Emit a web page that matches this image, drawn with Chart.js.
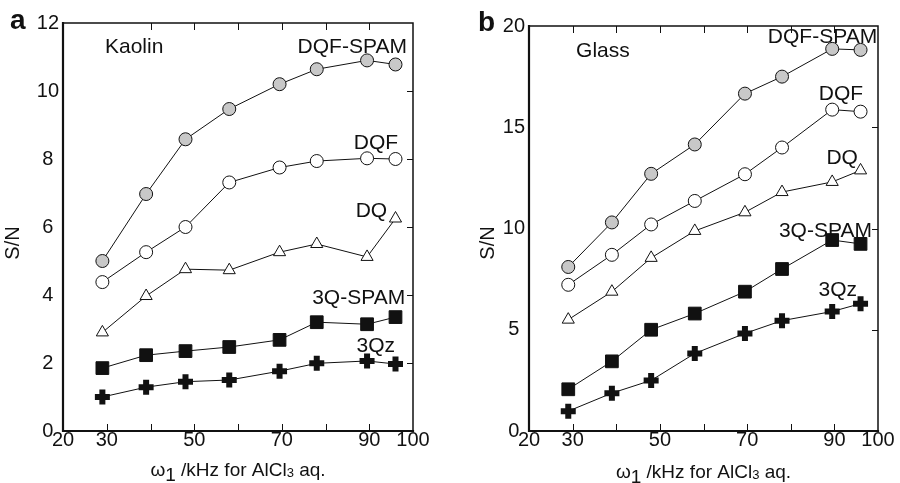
<!DOCTYPE html>
<html>
<head>
<meta charset="utf-8">
<script src="https://cdn.jsdelivr.net/npm/chart.js@4.4.1/dist/chart.umd.min.js"></script>
<style>
  html, body { margin: 0; padding: 0; background: #fff; }
  #wrap { position: relative; width: 900px; height: 483px; }
  canvas { position: absolute; top: 0; }
  #panel-a { left: 0; }
  #panel-b { left: 450px; }
</style>
</head>
<body>
<div id="wrap">
  <canvas id="panel-a" width="450" height="483"></canvas>
  <canvas id="panel-b" width="450" height="483"></canvas>
</div>
<script>
// omega_1 / kHz for AlCl3 aq.
var xKHz = [29, 39, 48, 58, 69.5, 78, 89.5, 96]
var xTickLabels = [20, 30, 50, 70, 90, 100]
var seriesNames = ['DQF-SPAM', 'DQF', 'DQ', '3Q-SPAM', '3Qz']

// (a) Kaolin
var kaolinDqfSpam = [5.0, 6.97, 8.58, 9.47, 10.2, 10.64, 10.9, 10.78]
var kaolinDqf = [4.38, 5.26, 6.0, 7.31, 7.75, 7.94, 8.02, 8.0]
var kaolinDq = [2.9, 3.97, 4.76, 4.73, 5.26, 5.5, 5.12, 6.25]
var kaolin3QSpam = [1.85, 2.23, 2.35, 2.47, 2.68, 3.2, 3.14, 3.35]
var kaolin3Qz = [1.0, 1.29, 1.45, 1.5, 1.76, 1.99, 2.06, 1.97]
var kaolinYTicks = [0, 2, 4, 6, 8, 10, 12]

// (b) Glass
var glassDqfSpam = [8.1, 10.3, 12.7, 14.15, 16.66, 17.5, 18.87, 18.82]
var glassDqf = [7.22, 8.7, 10.2, 11.36, 12.68, 14.0, 15.87, 15.77]
var glassDq = [5.5, 6.88, 8.55, 9.88, 10.8, 11.8, 12.3, 12.87]
var glass3QSpam = [2.06, 3.44, 5.0, 5.8, 6.88, 8.0, 9.43, 9.24]
var glass3Qz = [0.98, 1.87, 2.5, 3.83, 4.82, 5.45, 5.9, 6.29]
var glassYTicks = [0, 5, 10, 15, 20]

var FONT = '"Liberation Sans", Arial, sans-serif'

var markerStyles = [
  { pointStyle: 'circle', pointRadius: 6.5, pointBackgroundColor: '#c8c8c8', pointBorderWidth: 1 },
  { pointStyle: 'circle', pointRadius: 6.5, pointBackgroundColor: '#ffffff', pointBorderWidth: 1 },
  { pointStyle: 'triangle', pointRadius: 7, pointBackgroundColor: '#ffffff', pointBorderWidth: 1 },
  { pointStyle: 'rect', pointRadius: 9, pointBackgroundColor: '#111111', pointBorderWidth: 1 },
  { pointStyle: 'cross', pointRadius: 7.5, pointBackgroundColor: '#111111', pointBorderWidth: 6 }
]

function toPoints(ys) {
  return ys.map(function (y, i) { return { x: xKHz[i], y: y } })
}

// frame, inward ticks, labels and axis titles
var decorPlugin = {
  id: 'decor',
  afterDraw: function (chart, args, opts) {
    var ctx = chart.ctx
    var a = chart.chartArea
    var xs = chart.scales.x
    var ys = chart.scales.y
    ctx.save()
    ctx.strokeStyle = '#111'
    ctx.lineCap = 'square'

    // box
    ctx.lineWidth = 1.5
    ctx.beginPath()
    ctx.moveTo(a.left, a.top); ctx.lineTo(a.right, a.top); ctx.lineTo(a.right, a.bottom)
    ctx.stroke()
    ctx.lineWidth = 2.2
    ctx.beginPath()
    ctx.moveTo(a.left, a.top); ctx.lineTo(a.left, a.bottom); ctx.lineTo(a.right, a.bottom)
    ctx.stroke()

    // ticks
    ctx.lineWidth = 1
    ctx.lineCap = 'butt'
    ctx.beginPath()
    opts.topTicks.forEach(function (v) {
      var px = Math.round(xs.getPixelForValue(v)) + 0.5
      ctx.moveTo(px, a.top); ctx.lineTo(px, a.top + 7)
    })
    opts.bottomTicks.forEach(function (v) {
      var px = Math.round(xs.getPixelForValue(v)) + 0.5
      ctx.moveTo(px, a.bottom); ctx.lineTo(px, a.bottom - 7)
    })
    opts.rightTicks.forEach(function (v) {
      var py = Math.round(ys.getPixelForValue(v)) + 0.5
      ctx.moveTo(a.right, py); ctx.lineTo(a.right - 6, py)
    })
    ctx.stroke()

    // sample name and series labels
    ctx.fillStyle = '#111'
    ctx.textBaseline = 'alphabetic'
    ctx.font = '21px ' + FONT
    opts.labels.forEach(function (l) {
      ctx.textAlign = l.align
      ctx.fillText(l.text, xs.getPixelForValue(l.x), ys.getPixelForValue(l.y))
    })

    // panel letter
    ctx.font = 'bold 28px ' + FONT
    ctx.textAlign = 'left'
    ctx.fillText(opts.letter, opts.letterX, opts.letterY)

    // y title
    ctx.save()
    ctx.font = '20px ' + FONT
    ctx.textAlign = 'center'
    ctx.translate(opts.yTitleX, opts.yTitleY)
    ctx.rotate(-Math.PI / 2)
    ctx.fillText('S/N', 0, 0)
    ctx.restore()

    // x title with subscripts
    var parts = [
      { t: 'ω', size: 19, dy: 0 },
      { t: '1', size: 19, dy: 5 },
      { t: ' /kHz for AlCl', size: 19, dy: 0 },
      { t: '3', size: 13, dy: 1 },
      { t: ' aq.', size: 19, dy: 0 }
    ]
    var total = 0
    parts.forEach(function (p) {
      ctx.font = p.size + 'px ' + FONT
      p.w = ctx.measureText(p.t).width
      total += p.w
    })
    var x = (a.left + a.right) / 2 - total / 2
    ctx.textAlign = 'left'
    parts.forEach(function (p) {
      ctx.font = p.size + 'px ' + FONT
      ctx.fillText(p.t, x, opts.xTitleY + p.dy)
      x += p.w
    })
    ctx.restore()
  }
}

function makePanel(id, series, yTicks, yMax, decor) {
  var datasets = series.map(function (ys, i) {
    return Object.assign({
      label: seriesNames[i],
      data: toPoints(ys),
      borderColor: '#111',
      borderWidth: 1,
      pointBorderColor: '#111',
      pointHoverRadius: markerStyles[i].pointRadius,
      clip: false
    }, markerStyles[i])
  })

  return new Chart(document.getElementById(id), {
    type: 'line',
    data: { datasets: datasets },
    plugins: [decorPlugin],
    options: {
      responsive: false,
      animation: false,
      events: [],
      layout: { padding: { left: decor.padLeft, right: decor.padRight, top: decor.padTop, bottom: 22 } },
      scales: {
        x: {
          type: 'linear',
          min: 20,
          max: 100,
          afterBuildTicks: function (s) { s.ticks = xTickLabels.map(function (v) { return { value: v } }) },
          afterFit: function (s) { s.height = 30 },
          grid: { display: false, drawTicks: false },
          border: { display: false },
          ticks: { color: '#111', font: { family: FONT, size: 20 }, padding: -3, maxRotation: 0, autoSkip: false }
        },
        y: {
          min: 0,
          max: yMax,
          afterBuildTicks: function (s) { s.ticks = yTicks.map(function (v) { return { value: v } }) },
          afterFit: function (s) { s.width = 40 },
          grid: { display: false, drawTicks: false },
          border: { display: false },
          ticks: { color: '#111', font: { family: FONT, size: 20 }, padding: 4, crossAlign: 'center' }
        }
      },
      plugins: {
        legend: { display: false },
        tooltip: { enabled: false },
        decor: decor
      }
    }
  })
}

makePanel('panel-a',
  [kaolinDqfSpam, kaolinDqf, kaolinDq, kaolin3QSpam, kaolin3Qz],
  kaolinYTicks, 12, {
    padLeft: 23, padRight: 37, padTop: 23,
    topTicks: [40, 50, 60, 70, 80, 90],
    bottomTicks: [30, 40, 50, 60, 70, 80, 90],
    rightTicks: [2, 4, 6, 8, 10],
    letter: 'a', letterX: 10, letterY: 29,
    yTitleX: 19, yTitleY: 243,
    xTitleY: 476,
    labels: [
      { text: 'Kaolin', x: 29.6, y: 11.12, align: 'left' },
      { text: 'DQF-SPAM', x: 98.6, y: 11.12, align: 'right' },
      { text: 'DQF', x: 96.6, y: 8.29, align: 'right' },
      { text: 'DQ', x: 94.1, y: 6.29, align: 'right' },
      { text: '3Q-SPAM', x: 98.2, y: 3.74, align: 'right' },
      { text: '3Qz', x: 95.9, y: 2.32, align: 'right' }
    ]
  })

makePanel('panel-b',
  [glassDqfSpam, glassDqf, glassDq, glass3QSpam, glass3Qz],
  glassYTicks, 20, {
    padLeft: 39, padRight: 22, padTop: 26,
    topTicks: [30, 40, 50, 60, 70, 80, 90],
    bottomTicks: [30, 40, 50, 60, 70, 80, 90],
    rightTicks: [5, 10, 15],
    letter: 'b', letterX: 28, letterY: 31,
    yTitleX: 44, yTitleY: 243,
    xTitleY: 478,
    labels: [
      { text: 'Glass', x: 30.8, y: 18.48, align: 'left' },
      { text: 'DQF-SPAM', x: 99.8, y: 19.16, align: 'right' },
      { text: 'DQF', x: 96.6, y: 16.36, align: 'right' },
      { text: 'DQ', x: 95.4, y: 13.17, align: 'right' },
      { text: '3Q-SPAM', x: 98.6, y: 9.58, align: 'right' },
      { text: '3Qz', x: 95.2, y: 6.68, align: 'right' }
    ]
  })
</script>
</body>
</html>
